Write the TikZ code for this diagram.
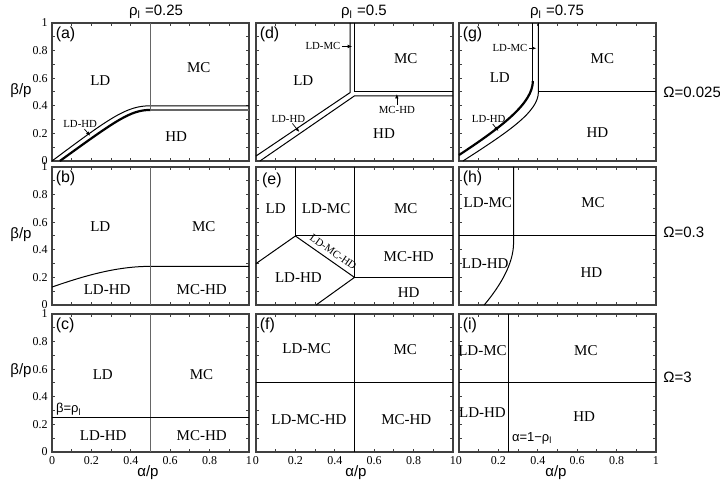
\documentclass[tikz,border=0pt]{standalone}
\usepackage{fontspec}
\setmainfont{Liberation Serif}
\setsansfont{Liberation Sans}
\usetikzlibrary{arrows.meta}
\colorlet{framegray}{black!75}
\colorlet{linegray}{black!60}
\newcommand{\phaseframe}{%
  \draw[panelframe] (0,0) rectangle (1,1);
  \foreach \t in {0.1,0.2,...,0.95}{%
    \draw[tickmark] (\t,0) -- ++(0,1.5pt) (\t,1) -- ++(0,-1.5pt)
      (0,\t) -- ++(1.5pt,0) (1,\t) -- ++(-1.5pt,0);}}

\begin{document}
\begin{tikzpicture}[x=0.5pt,y=0.5pt]
\tikzset{cell/.style 2 args={shift={(#1,#2)},x=98.5pt,y=69pt},
  panelframe/.style={draw=framegray,line width=0.8pt},
  tickmark/.style={framegray,line width=0.5pt},
  boundary/.style={line width=0.5pt},
  thickboundary/.style={line width=1.1pt},
  grayboundary/.style={linegray,line width=0.8pt},
  phase/.style={font=\fontsize{7.5}{8}\selectfont,inner sep=0.5pt},
  smallphase/.style={font=\fontsize{5.4}{6}\selectfont,inner sep=0.5pt},
  ticklabel/.style={font=\fontsize{6}{6}\selectfont,inner sep=0.5pt},
  axislabel/.style={font=\sffamily\fontsize{7.5}{8}\selectfont,inner sep=0.5pt},
  panellabel/.style={font=\sffamily\fontsize{8}{9}\selectfont,inner sep=0.5pt,anchor=west},
  pointer/.style={line width=0.35pt,-{Latex[length=2.2pt,width=1.8pt]}}}
\useasboundingbox (0,0) rectangle (720,487);

% (a)
\begin{scope}[cell={52}{326}]
\phaseframe
\draw[boundary] (0,0) .. controls (0.3,0.32) and (0.38,0.40) .. (0.5,0.40) -- (1,0.40);
\draw[thickboundary] (0.04,0) .. controls (0.33,0.30) and (0.40,0.37) .. (0.5,0.37);
\draw[grayboundary] (0.5,1) -- (0.5,0.37) -- (1,0.37);
\node[panellabel] (pa) at (0.012,0.92) {(a)};
\node[phase] (a-ld) at (0.245,0.58) {LD};
\node[phase] (a-mc) at (0.745,0.68) {MC};
\node[phase] (a-hd) at (0.63,0.18) {HD};
\node[smallphase] (a-ldhd) at (0.143,0.267) {LD-HD};
\coordinate (a-tip) at (0.194,0.182);
\draw[pointer] (a-ldhd) -- (a-tip);
\end{scope}

% (d)
\begin{scope}[cell={256}{326}]
\phaseframe
\draw[boundary] (0,0.036) -- (0.478,0.496) -- (0.478,1);
\draw[boundary] (0.5,1) -- (0.5,0.5) -- (1,0.5);
\draw[boundary] (0.02,0) -- (0.5,0.472) -- (1,0.472);
\node[panellabel] (pd) at (0.012,0.92) {(d)};
\node[phase] (d-ld) at (0.24,0.58) {LD};
\node[phase] (d-mc) at (0.76,0.74) {MC};
\node[phase] (d-hd) at (0.65,0.2) {HD};
\node[smallphase] (d-ldmc) at (0.34,0.83) {LD-MC};
\node[smallphase] (d-mchd) at (0.715,0.37) {MC-HD};
\node[smallphase] (d-ldhd) at (0.164,0.308) {LD-HD};
\coordinate (d-tip1) at (0.488,0.83);
\coordinate (d-tip2) at (0.715,0.485);
\coordinate (d-tip3) at (0.22,0.21);
\draw[pointer] (d-ldmc) -- (d-tip1);
\draw[pointer] (d-mchd) -- (d-tip2);
\draw[pointer] (d-ldhd) -- (d-tip3);
\end{scope}

% (g)
\begin{scope}[cell={459}{326}]
\phaseframe
\draw[thickboundary] (0,0.043) .. controls (0.22,0.25) and (0.375,0.42) .. (0.375,0.58);
\draw[boundary] (0.375,0.58) -- (0.375,1);
\draw[boundary] (0.02,0) .. controls (0.26,0.22) and (0.403,0.36) .. (0.403,0.5) -- (0.403,1);
\draw[boundary] (0.403,0.5) -- (1,0.5);
\node[panellabel] (pg) at (0.012,0.92) {(g)};
\node[phase] (g-ld) at (0.207,0.605) {LD};
\node[phase] (g-mc) at (0.728,0.742) {MC};
\node[phase] (g-hd) at (0.703,0.207) {HD};
\node[smallphase] (g-ldmc) at (0.259,0.817) {LD-MC};
\node[smallphase] (g-ldhd) at (0.151,0.304) {LD-HD};
\coordinate (g-tip1) at (0.393,0.817);
\coordinate (g-tip2) at (0.2,0.217);
\draw[pointer] (g-ldmc) -- (g-tip1);
\draw[pointer] (g-ldhd) -- (g-tip2);
\end{scope}

% (b)
\begin{scope}[cell={52}{182}]
\phaseframe
\draw[boundary] (0,0.13) .. controls (0.2,0.23) and (0.35,0.28) .. (0.5,0.28) -- (1,0.28);
\draw[grayboundary] (0.5,0) -- (0.5,1);
\node[panellabel] (pb) at (0.012,0.92) {(b)};
\node[phase] (b-ld) at (0.245,0.57) {LD};
\node[phase] (b-mc) at (0.77,0.57) {MC};
\node[phase] (b-ldhd) at (0.28,0.115) {LD-HD};
\node[phase] (b-mchd) at (0.76,0.115) {MC-HD};
\end{scope}

% (e)
\begin{scope}[cell={256}{182}]
\phaseframe
\draw[boundary] (0.2,1) -- (0.2,0.5) -- (1,0.5);
\draw[boundary] (0.5,1) -- (0.5,0.2) -- (1,0.2);
\draw[boundary] (0,0.3) -- (0.2,0.5) -- (0.5,0.2) -- (0.305,0);
\node[panellabel] (pe) at (0.024,0.906) {(e)};
\node[phase] (e-ld) at (0.1,0.7) {LD};
\node[phase] (e-ldmc) at (0.356,0.7) {LD-MC};
\node[phase] (e-mc) at (0.76,0.7) {MC};
\node[smallphase,rotate=-35] (e-ldmchd) at (0.392,0.385) {LD-MC-HD};
\node[phase] (e-mchd) at (0.775,0.35) {MC-HD};
\node[phase] (e-ldhd) at (0.215,0.2) {LD-HD};
\node[phase] (e-hd) at (0.775,0.087) {HD};
\end{scope}

% (h)
\begin{scope}[cell={459}{182}]
\phaseframe
\draw[boundary] (0.277,1) -- (0.277,0.45) .. controls (0.277,0.3) and (0.21,0.14) .. (0.128,0);
\draw[boundary] (0,0.5) -- (1,0.5);
\node[panellabel] (ph) at (0.012,0.92) {(h)};
\node[phase] (h-ldmc) at (0.146,0.745) {LD-MC};
\node[phase] (h-mc) at (0.68,0.745) {MC};
\node[phase] (h-ldhd) at (0.133,0.298) {LD-HD};
\node[phase] (h-hd) at (0.672,0.232) {HD};
\end{scope}

% (c)
\begin{scope}[cell={52}{35}]
\phaseframe
\draw[grayboundary] (0.5,0) -- (0.5,1);
\draw[boundary] (0,0.25) -- (1,0.25);
\node[panellabel] (pc) at (0.012,0.92) {(c)};
\node[phase] (c-ld) at (0.258,0.56) {LD};
\node[phase] (c-mc) at (0.759,0.56) {MC};
\node[phase] (c-ldhd) at (0.26,0.118) {LD-HD};
\node[phase] (c-mchd) at (0.76,0.118) {MC-HD};
\node[axislabel,anchor=west,font=\sffamily\fontsize{6.5}{7}\selectfont] (c-rule) at (0.014,0.31) {β=ρ\textsubscript{l}};
\end{scope}

% (f)
\begin{scope}[cell={256}{35}]
\phaseframe
\draw[boundary] (0.5,0) -- (0.5,1);
\draw[boundary] (0,0.5) -- (1,0.5);
\node[panellabel] (pf) at (0.012,0.92) {(f)};
\node[phase] (f-ldmc) at (0.257,0.75) {LD-MC};
\node[phase] (f-mc) at (0.758,0.745) {MC};
\node[phase] (f-ldmchd) at (0.269,0.234) {LD-MC-HD};
\node[phase] (f-mchd) at (0.763,0.234) {MC-HD};
\end{scope}

% (i)
\begin{scope}[cell={459}{35}]
\phaseframe
\draw[boundary] (0.25,0) -- (0.25,1);
\draw[boundary] (0,0.5) -- (1,0.5);
\node[panellabel] (pi) at (0.012,0.92) {(i)};
\node[phase] (i-ldmc) at (0.119,0.735) {LD-MC};
\node[phase] (i-mc) at (0.644,0.735) {MC};
\node[phase] (i-ldhd) at (0.119,0.282) {LD-HD};
\node[phase] (i-hd) at (0.635,0.253) {HD};
\node[axislabel,anchor=west,font=\sffamily\fontsize{6.5}{7}\selectfont] (i-rule) at (0.262,0.101) {α=1−ρ\textsubscript{l}};
\end{scope}

% tick labels
\foreach \y [count=\r] in {326,182,35}{
  \begin{scope}[cell={52}{\y}]
  \foreach \v [count=\i] in {0,0.2,0.4,0.6,0.8,1}
    \node[ticklabel,anchor=east,xshift=-1.5pt] (yl\r\i) at (0,\v) {\v};
  \end{scope}}
\foreach \x [count=\c] in {52,256,459}{
  \begin{scope}[cell={\x}{35}]
  \foreach \v [count=\i] in {0,0.2,0.4,0.6,0.8,1}
    \node[ticklabel,anchor=north,yshift=-1.5pt] (xl\c\i) at (\v,0) {\v};
  \end{scope}}

% axis and parameter labels
\node[axislabel] (rho1) at (156,475) {ρ\textsubscript{l} =0.25};
\node[axislabel] (rho2) at (364,475) {ρ\textsubscript{l} =0.5};
\node[axislabel] (rho3) at (557,475) {ρ\textsubscript{l} =0.75};
\node[axislabel,anchor=west] (om1) at (662,395) {Ω=0.025};
\node[axislabel,anchor=west] (om2) at (662,255) {Ω=0.3};
\node[axislabel,anchor=west] (om3) at (662,110) {Ω=3};
\node[axislabel] (beta1) at (21,396) {β/p};
\node[axislabel] (beta2) at (21,252) {β/p};
\node[axislabel] (beta3) at (21,116) {β/p};
\node[axislabel] (alpha1) at (148,14) {α/p};
\node[axislabel] (alpha2) at (356,14) {α/p};
\node[axislabel] (alpha3) at (556,14) {α/p};
\end{tikzpicture}
\end{document}
